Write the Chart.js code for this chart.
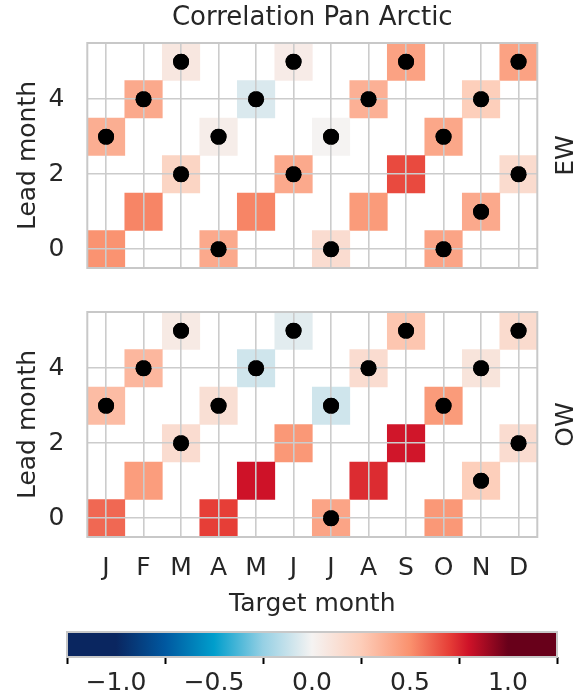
<!DOCTYPE html>
<html>
<head>
<meta charset="utf-8">
<script src="https://cdn.jsdelivr.net/npm/chart.js@4.4.1/dist/chart.umd.min.js"></script>
<style>
  body { margin: 0; background: #fff; }
  #wrap { position: relative; width: 582px; height: 697px; }
  #wrap canvas { position: absolute; left: 0; }
</style>
</head>
<body>
<div id="wrap">
  <canvas id="ew" width="582" height="280" style="top:0"></canvas>
  <canvas id="ow" width="582" height="340" style="top:280px"></canvas>
  <canvas id="cbar" width="582" height="77" style="top:620px"></canvas>
</div>
<script>
// datos del grafico
var months = ['J', 'F', 'M', 'A', 'M', 'J', 'J', 'A', 'S', 'O', 'N', 'D'];
var leadTicks = [0, 2, 4];
var cbarTicks = [-1, -0.5, 0, 0.5, 1];

// correlacion EW, una fila por lead month (0..5), una columna por target month
var ewCorr = [
  [0.49, null, null, 0.40, null, null, 0.15, null, null, 0.42, null, null],
  [null, 0.53, null, null, 0.53, null, null, 0.46, null, null, 0.40, null],
  [null, null, 0.20, null, null, 0.40, null, null, 0.67, null, null, 0.16],
  [0.38, null, null, 0.04, null, null, 0.00, null, null, 0.41, null, null],
  [null, 0.40, null, null, -0.07, null, null, 0.37, null, null, 0.24, null],
  [null, null, 0.08, null, null, 0.05, null, null, 0.43, null, null, 0.43]
];
// correlacion OW
var owCorr = [
  [0.60, null, null, 0.70, null, null, 0.42, null, null, 0.47, null, null],
  [null, 0.45, null, null, 0.80, null, null, 0.74, null, null, 0.24, null],
  [null, null, 0.15, null, null, 0.47, null, null, 0.79, null, null, 0.15],
  [0.32, null, null, 0.13, null, null, -0.10, null, null, 0.46, null, null],
  [null, 0.34, null, null, -0.10, null, null, 0.15, null, null, 0.10, null],
  [null, null, 0.06, null, null, -0.05, null, null, 0.28, null, null, 0.16]
];
// meses (indices) marcados con punto, por lead month
var ewDots = [[3, 6, 9], [10], [2, 5, 11], [0, 3, 6, 9], [1, 4, 7, 10], [2, 5, 8, 11]];
var owDots = [[6], [10], [2, 11], [0, 3, 6, 9], [1, 4, 7, 10], [2, 5, 8, 11]];

// paleta divergente (valor, rgb)
var cmapStops = [
  [-1.0, [10, 38, 96]],
  [-0.75, [0, 88, 160]],
  [-0.5, [0, 158, 204]],
  [-0.25, [150, 208, 228]],
  [0.0, [245, 243, 242]],
  [0.25, [253, 205, 185]],
  [0.5, [250, 145, 110]],
  [0.7, [230, 62, 55]],
  [0.8, [206, 18, 40]],
  [1.0, [104, 0, 26]]
];

function colorFor(v) {
  for (var i = 1; i < cmapStops.length; i++) {
    if (v <= cmapStops[i][0]) {
      var a = cmapStops[i - 1], b = cmapStops[i];
      var t = (v - a[0]) / (b[0] - a[0]);
      var c = a[1].map(function (x, k) { return Math.round(x + (b[1][k] - x) * t); });
      return 'rgb(' + c.join(',') + ')';
    }
  }
  return 'rgb(' + cmapStops[cmapStops.length - 1][1].join(',') + ')';
}

var textColor = '#262626';
var gridColor = '#cccccc';
var font = 'DejaVu Sans';

// marco gris y puntos por encima de la rejilla
var framePlugin = {
  id: 'frame',
  afterDraw: function (chart) {
    var a = chart.chartArea, ctx = chart.ctx;
    ctx.save();
    ctx.strokeStyle = '#c8c8c8';
    ctx.lineWidth = 2;
    ctx.strokeRect(a.left, a.top, a.right - a.left, a.bottom - a.top);
    ctx.restore();
    chart.data.datasets.forEach(function (ds, i) {
      if (ds.type === 'line') chart.getDatasetMeta(i).controller.draw();
    });
    var lbl = chart.options.plugins.frame.label;
    if (lbl) {
      ctx.save();
      ctx.fillStyle = textColor;
      ctx.font = '25px "' + font + '"';
      ctx.textAlign = 'center';
      ctx.textBaseline = 'middle';
      ctx.translate(566, (a.top + a.bottom) / 2);
      ctx.rotate(-Math.PI / 2);
      ctx.fillText(lbl, 0, 0);
      ctx.restore();
    }
  }
};

function buildDatasets(corr, dots) {
  var sets = [];
  corr.forEach(function (row, lead) {
    sets.push({
      type: 'bar',
      data: row.map(function (v) { return v === null ? null : [lead - 0.5, lead + 0.5]; }),
      backgroundColor: row.map(function (v) { return v === null ? 'rgba(0,0,0,0)' : colorFor(v); }),
      borderWidth: 0,
      grouped: false,
      barPercentage: 1,
      categoryPercentage: 1,
      order: 2
    });
  });
  dots.forEach(function (idx, lead) {
    sets.push({
      type: 'line',
      data: months.map(function (m, i) { return idx.indexOf(i) >= 0 ? lead : null; }),
      showLine: false,
      pointRadius: 8,
      pointHoverRadius: 8,
      pointBackgroundColor: '#000',
      pointBorderWidth: 0,
      order: 1
    });
  });
  return sets;
}

function makePanel(id, corr, dots, label, isTop) {
  var ctx = document.getElementById(id).getContext('2d');
  return new Chart(ctx, {
    type: 'bar',
    data: { labels: months, datasets: buildDatasets(corr, dots) },
    plugins: [framePlugin],
    options: {
      responsive: false,
      animation: false,
      devicePixelRatio: 1,
      layout: { padding: { top: isTop ? 0 : 32, right: 44.7, left: 0, bottom: 0 } },
      plugins: {
        legend: { display: false },
        tooltip: { enabled: false },
        frame: { label: label },
        title: {
          display: isTop,
          fullSize: false,
          text: 'Correlation Pan Arctic',
          color: textColor,
          font: { family: font, size: 26, weight: 'normal' },
          padding: { top: 2.4, bottom: 9.4 }
        }
      },
      scales: {
        x: {
          type: 'category',
          offset: true,
          grid: { display: true, offset: false, color: gridColor, lineWidth: 1.6, drawTicks: false, z: 1 },
          border: { display: false },
          ticks: {
            display: !isTop,
            color: textColor,
            font: { family: font, size: 25 },
            padding: 16,
            maxRotation: 0,
            autoSkip: false
          },
          title: {
            display: !isTop,
            text: 'Target month',
            color: textColor,
            font: { family: font, size: 25 },
            padding: { top: 0, bottom: 1 }
          },
          afterFit: function (s) {
            s.height = isTop ? 12 : 83;
            s.paddingLeft = 0; s.paddingRight = 0;
          }
        },
        y: {
          type: 'linear',
          min: -0.5,
          max: 5.5,
          afterBuildTicks: function (s) { s.ticks = leadTicks.map(function (v) { return { value: v }; }); },
          grid: { color: gridColor, lineWidth: 1.6, drawTicks: false, z: 1 },
          border: { display: false },
          ticks: { color: textColor, font: { family: font, size: 25 }, padding: 23 },
          title: {
            display: true,
            text: 'Lead month',
            color: textColor,
            font: { family: font, size: 25 },
            padding: { top: 13, bottom: 0 }
          },
          afterFit: function (s) {
            s.width = 87.3;
            s.paddingTop = 0; s.paddingBottom = 0;
          }
        }
      }
    }
  });
}

makePanel('ew', ewCorr, ewDots, 'EW', true);
makePanel('ow', owCorr, owDots, 'OW', false);

// barra de color
var cbarPlugin = {
  id: 'cbarFill',
  beforeDatasetsDraw: function (chart) {
    var a = chart.chartArea, ctx = chart.ctx, xs = chart.scales.x;
    var g = ctx.createLinearGradient(xs.getPixelForValue(-1), 0, xs.getPixelForValue(1), 0);
    cmapStops.forEach(function (s) { g.addColorStop((s[0] + 1) / 2, 'rgb(' + s[1].join(',') + ')'); });
    ctx.save();
    ctx.fillStyle = g;
    ctx.fillRect(a.left, a.top, a.right - a.left, a.bottom - a.top);
    ctx.strokeStyle = '#c8c8c8';
    ctx.lineWidth = 2;
    ctx.strokeRect(a.left, a.top, a.right - a.left, a.bottom - a.top);
    ctx.restore();
  }
};

new Chart(document.getElementById('cbar').getContext('2d'), {
  type: 'bar',
  data: { labels: [], datasets: [] },
  plugins: [cbarPlugin],
  options: {
    responsive: false,
    animation: false,
    devicePixelRatio: 1,
    layout: { padding: { top: 12, left: 67, right: 25, bottom: 0 } },
    plugins: { legend: { display: false }, tooltip: { enabled: false } },
    scales: {
      x: {
        type: 'linear',
        min: -1,
        max: 1,
        afterBuildTicks: function (s) { s.ticks = cbarTicks.map(function (v) { return { value: v }; }); },
        grid: { drawOnChartArea: false, drawTicks: true, tickLength: 7, tickColor: '#000', tickWidth: 2 },
        border: { display: false },
        ticks: {
          color: textColor,
          font: { family: font, size: 25 },
          padding: 4,
          maxRotation: 0,
          callback: function (v) { return (v < 0 ? '\u2212' : '') + Math.abs(v).toFixed(1); }
        },
        afterFit: function (s) {
          s.height = 40;
          s.paddingLeft = 0; s.paddingRight = 0;
        }
      },
      y: { display: false }
    }
  }
});
</script>
</body>
</html>
